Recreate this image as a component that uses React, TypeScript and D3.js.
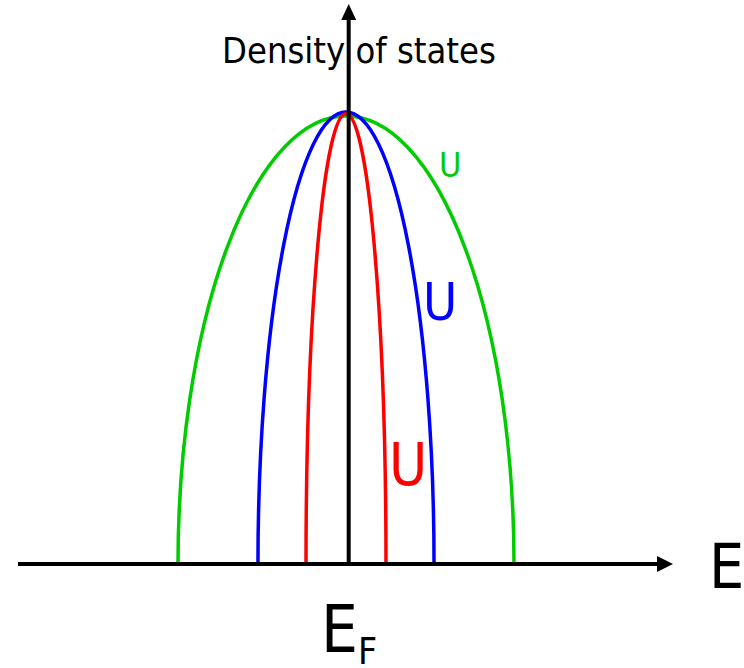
import React from "react";
import * as d3 from "d3";

// Data: semi-elliptical densities of states for three interaction strengths U
const curveNames = ["U small", "U medium", "U large"];
const halfWidths = [0.5, 0.262, 0.119]; // band half-widths (energy units, relative)
const peakHeights = [0.991, 1.0, 0.996]; // relative peak density
const curveColors = ["#00cc00", "#0000ff", "#ff0000"];
const uLabels = ["U", "U", "U"];
const fermiEnergy = 0.008;

const W = 744;
const H = 668;

export default function App() {
  const x = d3.scaleLinear().domain([-1, 1]).range([10, 682]);
  const y = d3.scaleLinear().domain([0, 1]).range([564, 112]);
  const y0 = y(0);
  const axisX = x(fermiEnergy);
  const font = "'DejaVu Sans Condensed', 'DejaVu Sans', sans-serif";

  const labelPos = [
    { x: 439, y: 177, size: 34 },
    { x: 423, y: 320, size: 52 },
    { x: 389, y: 485, size: 58 },
  ];

  return (
    <svg width={W} height={H} style={{ position: "absolute", left: 0, top: 0, background: "#fff" }}>
      {/* curves */}
      {halfWidths.map((w, i) => {
        const xl = x(-w);
        const xr = x(w);
        const rx = (xr - xl) / 2;
        const ry = y0 - y(peakHeights[i]);
        const d = `M${xl},${y0} A${rx},${ry} 0 0 1 ${xr},${y0}`;
        return (
          <path key={curveNames[i]} d={d} fill="none" stroke={curveColors[i]} strokeWidth={3.5} />
        );
      })}
      {/* horizontal axis */}
      <line x1={18} x2={660} y1={y0} y2={y0} stroke="#000" strokeWidth={4} />
      <path d={`M673,${y0} L657,${y0 - 8} L657,${y0 + 8} Z`} fill="#000" />
      {/* vertical axis */}
      <line x1={axisX} x2={axisX} y1={y0} y2={18} stroke="#000" strokeWidth={4} />
      <path d={`M${axisX},4 L${axisX - 7.5},20 L${axisX + 7.5},20 Z`} fill="#000" />
      {/* labels */}
      <text x={222} y={63} fontFamily={font} fontSize={36} fill="#000">
        Density of states
      </text>
      <text x={709} y={588} fontFamily={font} fontSize={62} fill="#000">
        E
      </text>
      <text x={321} y={652} fontFamily={font} fontSize={65} fill="#000">
        E
      </text>
      <text x={358} y={664} fontFamily={font} fontSize={37} fill="#000">
        F
      </text>
      {uLabels.map((u, i) => (
        <text
          key={i}
          x={labelPos[i].x}
          y={labelPos[i].y}
          fontFamily={font}
          fontSize={labelPos[i].size}
          fill={curveColors[i]}
        >
          {u}
        </text>
      ))}
    </svg>
  );
}
